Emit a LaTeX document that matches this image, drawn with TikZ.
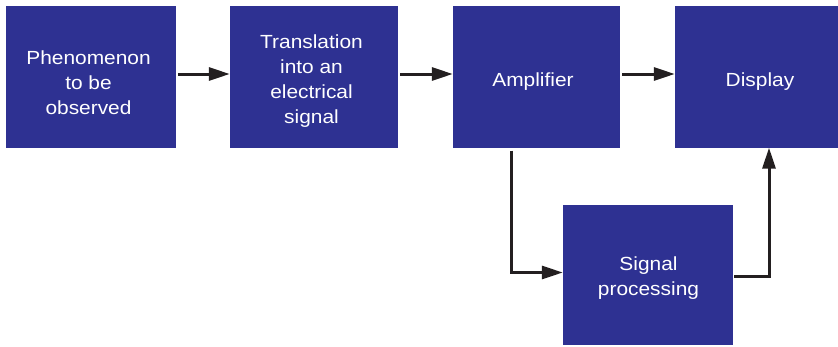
\documentclass[tikz,border=0pt]{standalone}
\usepackage{fontspec}
\setmainfont{Liberation Sans}[FakeStretch=1.1]
\usetikzlibrary{arrows.meta}
\definecolor{boxblue}{HTML}{2E3192}
\definecolor{arrowblack}{HTML}{231F20}
\newcommand\blktxt[3]{\kern#1\raisebox{#2}{\begin{tabular}[b]{@{}c@{}}#3\end{tabular}}\kern-#1}
\tikzset{
  blk/.style={rectangle, fill=boxblue, draw=none, text=white,
    font=\fontsize{19}{25}\selectfont, inner sep=0pt, text height=0pt, text depth=0pt},
  arr/.style={draw=arrowblack, line width=3pt, -{Triangle[length=21pt,width=13pt]}}
}
\begin{document}
\begin{tikzpicture}[x=1pt,y=-1pt]
\useasboundingbox (0,0) rectangle (838,346);
\node[blk, minimum width=170pt, minimum height=141.5pt] (b1) at (91,76.75) {\blktxt{-2.5pt}{-37.25pt}{Phenomenon\\to be\\observed}};
\node[blk, minimum width=168pt, minimum height=141.5pt] (b2) at (314,76.75) {\blktxt{-2.5pt}{-46.75pt}{Translation\\into an\\electrical\\signal}};
\node[blk, minimum width=167pt, minimum height=141.5pt] (b3) at (536.5,76.75) {\blktxt{-3.5pt}{-9.25pt}{Amplifier}};
\node[blk, minimum width=163pt, minimum height=141.5pt] (b4) at (756.5,76.75) {\blktxt{3.5pt}{-9.25pt}{Display}};
\node[blk, minimum width=170pt, minimum height=140pt] (b5) at (648,275) {\blktxt{0.5pt}{-20pt}{Signal\\processing}};
\draw[arr] ([xshift=2pt,yshift=2.75pt]b1.east) -- ([yshift=2.75pt]b2.west);
\draw[arr] ([xshift=2pt,yshift=2.75pt]b2.east) -- ([yshift=2.75pt]b3.west);
\draw[arr] ([xshift=2pt,yshift=2.75pt]b3.east) -- ([yshift=2.75pt]b4.west);
\draw[arr] ([xshift=-25.5pt,yshift=-3pt]b3.south) |- ([yshift=2.5pt]b5.west);
\draw[arr] ([xshift=1pt,yshift=-1pt]b5.east) -| ([xshift=12.5pt]b4.south);
\end{tikzpicture}
\end{document}
